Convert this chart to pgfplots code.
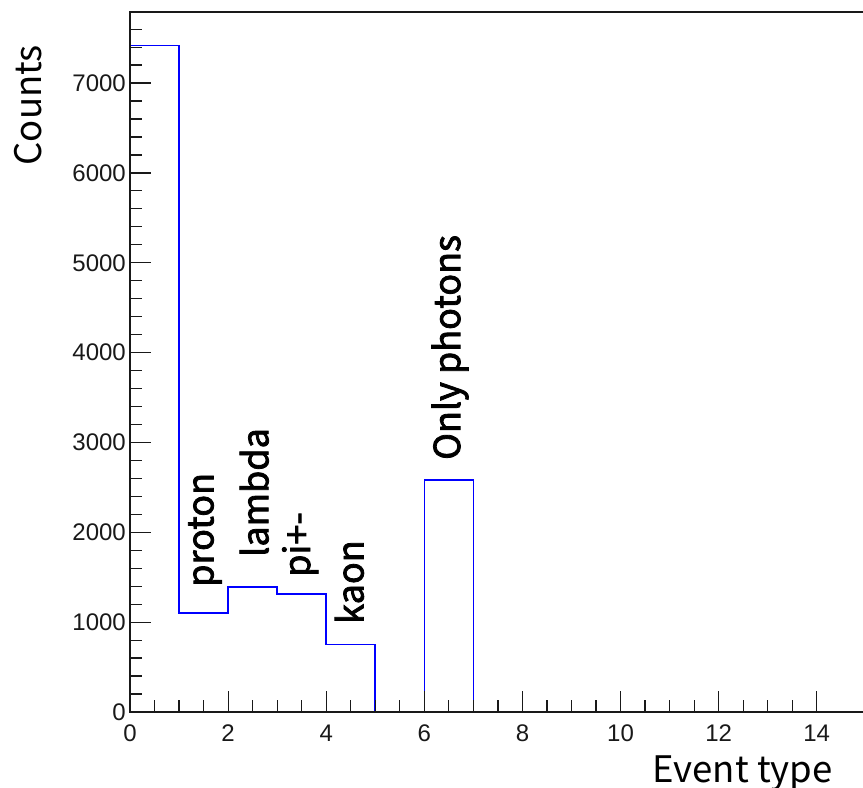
\documentclass[border=0pt]{standalone}
\usepackage{pgfplots}
\pgfplotsset{compat=1.18}
\usepackage{fontspec}
\setmainfont{Liberation Sans}
\newfontfamily\titlefont{Noto Sans CJK KR}
\newfontfamily\labfont{Noto Sans CJK KR}[FakeBold=2.2]
\begin{document}
\begin{tikzpicture}
\begin{axis}[
  name=ax,
  scale only axis,
  width=735.8bp, height=700bp,
  xmin=0, xmax=15, ymin=0, ymax=7791,
  axis on top,
  tick align=inside,
  tick pos=left,
  xtick={0,2,...,14},
  ytick={0,1000,...,7000},
  minor x tick num=3,
  minor y tick num=4,
  extra y ticks={7200,7400,7600},
  extra y tick labels={},
  extra y tick style={major tick length=12bp},
  major tick length=21bp,
  minor tick length=12bp,
  scaled ticks=false,
  /pgf/number format/assume math mode=true,
  /pgf/number format/1000 sep={},
  ticklabel style={font=\fontsize{24bp}{28bp}\selectfont, text=black!90},
  x tick label style={inner sep=0pt, yshift=-13bp},
  y tick label style={inner sep=0pt, xshift=-4bp},
  axis line style={line width=1.3bp, black!90},
  every tick/.style={line width=1.2bp, black!90},
  xlabel={Event type},
  ylabel={Counts},
  xlabel style={font=\titlefont\fontsize{36.5bp}{40bp}\selectfont, at={(axis description cs:0.9554,-0.1014)}, anchor=base east, inner sep=0pt},
  ylabel style={font=\titlefont\fontsize{36.5bp}{40bp}\selectfont, at={(axis description cs:-0.1196,0.953)}, anchor=base east, rotate=0, inner sep=0pt},
  clip=false,
]
\addplot[const plot mark left, blue, line width=1.6bp] coordinates {
  (0,7420) (1,1105) (2,1394) (3,1313) (4,753) (5,0) (6,2582) (7,0)
  (8,0) (9,0) (10,0) (11,0) (12,0) (13,0) (14,0) (15,0)
};
\begin{scope}[every node/.style={rotate=90, anchor=base west, inner sep=0pt, font=\labfont\fontsize{36bp}{40bp}\selectfont}]
\node at (axis cs:1.70,1391) {proton};
\node at (axis cs:2.82,1725) {lambda};
\node at (axis cs:3.67,1502) {pi+-};
\node at (axis cs:4.76,979) {kaon};
\node at (axis cs:6.73,2805) {Only photons};
\end{scope}
\end{axis}
\pgfresetboundingbox
\path[use as bounding box] (ax.south west) ++(-130bp,-76bp) rectangle ++(863bp,788bp);
\end{tikzpicture}
\end{document}
